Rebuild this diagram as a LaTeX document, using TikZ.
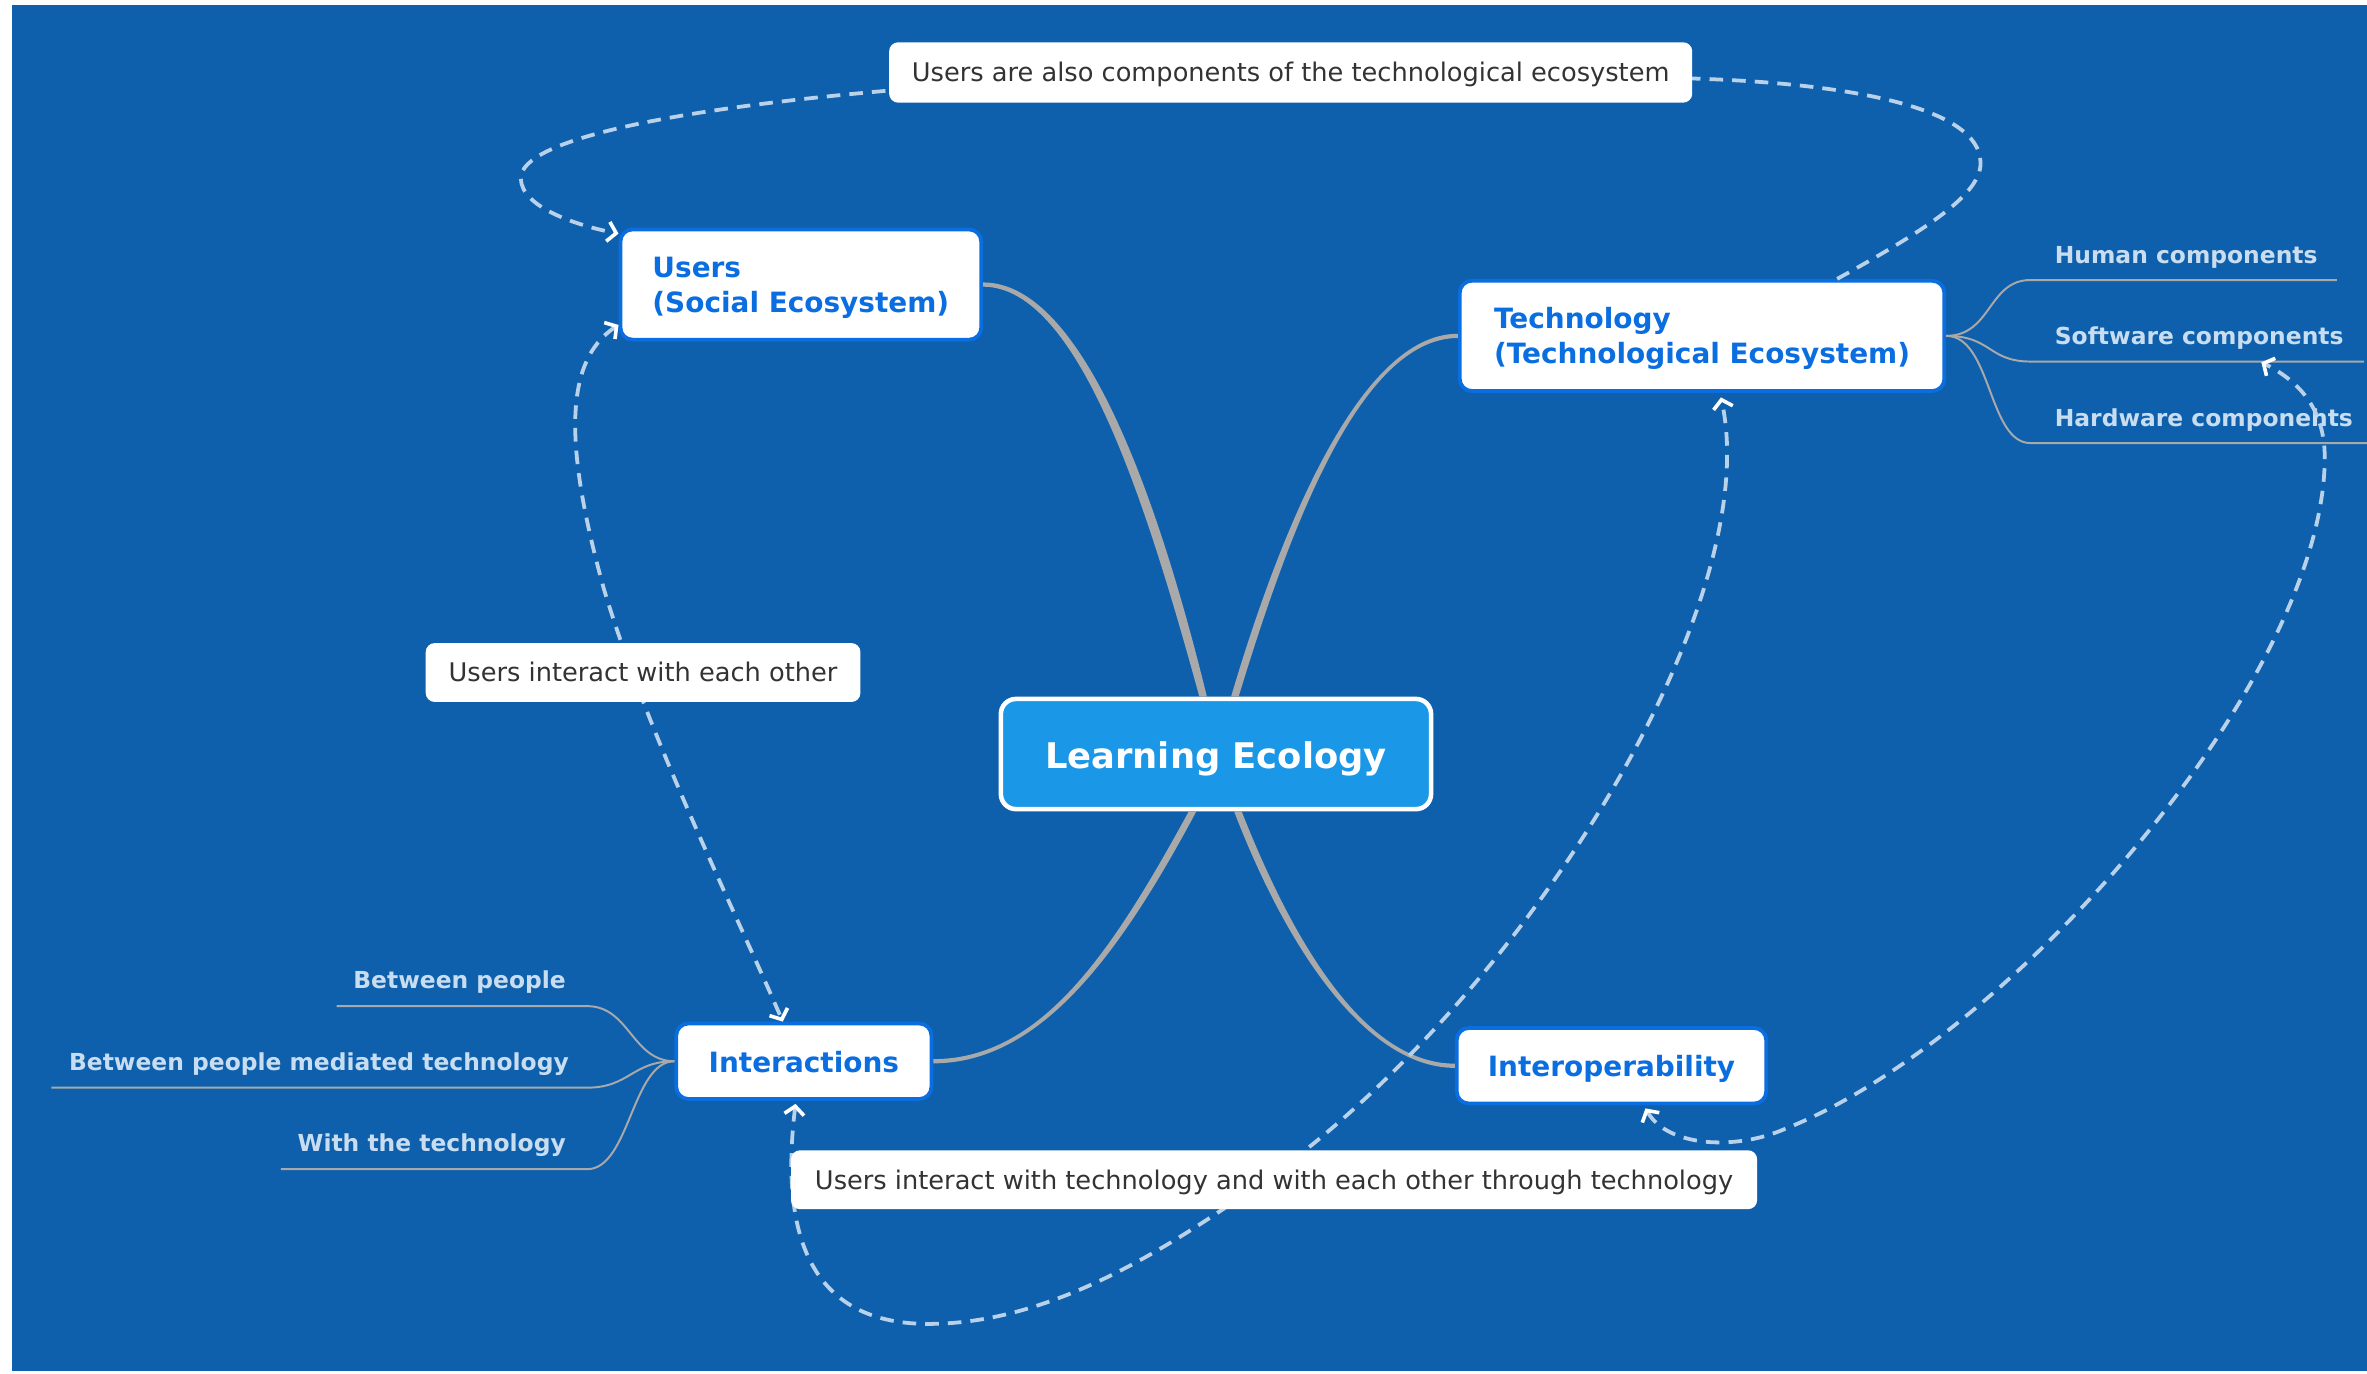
\documentclass[tikz,border=0pt]{standalone}
\usepackage{fontspec}
\setmainfont{DejaVu Sans}
\usetikzlibrary{arrows.meta,calc}
\definecolor{bg}{HTML}{0E60AD}
\definecolor{cfill}{HTML}{1B97E8}
\definecolor{nblue}{HTML}{0A6EE0}
\definecolor{subtxt}{HTML}{C8DDF0}
\definecolor{branch}{HTML}{A9A9A9}
\definecolor{dashc}{HTML}{B9D2EA}
\definecolor{ctext}{HTML}{333333}
\begin{document}
\begin{tikzpicture}[x=1pt,y=-1pt,
  >={Straight Barb[length=5.5pt,width=13pt,line width=2.4pt,color=white]},
  topic/.style={draw=nblue, line width=2.5pt, fill=white, rounded corners=8pt, text=nblue,
    font=\fontsize{18.5}{23}\selectfont\bfseries, align=left, inner sep=0pt},
  oneline/.style={text height=14.5pt, text depth=0pt},
  twoline/.style={text height=36.5pt, text depth=0pt},
  centralbox/.style={draw=white, line width=3pt, fill=cfill, rounded corners=10pt, text=white,
    font=\fontsize{23.4}{28}\selectfont\bfseries, inner sep=0pt, text height=19.5pt, text depth=0pt},
  callout/.style={fill=white, rounded corners=6pt, text=ctext,
    font=\fontsize{17}{20}\selectfont, inner sep=0pt, text height=12.4pt, text depth=0pt},
  subtopic/.style={text=subtxt, font=\fontsize{15.5}{18}\selectfont\bfseries, inner sep=0pt},
  mainbranch/.style={fill=branch},
  subbranch/.style={draw=branch, line width=1.3pt},
  relation/.style={draw=dashc, line width=2.5pt, dash pattern=on 9pt off 6pt},
]
\useasboundingbox (0,0) rectangle (1568,910);
\fill[white] (0,0) rectangle (1568,910);
\fill[bg] (8,3) rectangle (1568,908);

% main topic nodes
\node[centralbox, minimum width=285pt, minimum height=73pt] (central) at (805.5,499.5) {Learning Ecology};
\node[topic, twoline, minimum width=239pt, minimum height=73pt] (users) at (530.5,188.5) {Users\\(Social Ecosystem)};
\node[topic, twoline, minimum width=321pt, minimum height=73pt] (tech) at (1127.5,222.5) {Technology\\(Technological Ecosystem)};
\node[topic, oneline, minimum width=169pt, minimum height=50pt] (inter) at (532.5,703) {Interactions};
\node[topic, oneline, minimum width=205pt, minimum height=50pt] (interop) at (1067.5,706) {Interoperability};

% subtopics
\node[subtopic, anchor=base west] (hum) at (1361,174.5) {Human components};
\node[subtopic, anchor=base west] (soft) at (1361,228.5) {Software components};
\node[subtopic, anchor=base west] (hard) at (1361,282.5) {Hardware componehts};
\node[subtopic, anchor=base east] (bp) at (375,655) {Between people};
\node[subtopic, anchor=base east] (bpm) at (377,709) {Between people mediated technology};
\node[subtopic, anchor=base east] (wt) at (375,763) {With the technology};

% main branches (tapered)
\fill[mainbranch] ([xshift=-11pt]central.north) .. controls (760,336) and (715,190) .. ([yshift=-1.4pt]users.east)
  -- ([yshift=1.4pt]users.east) .. controls (718,187) and (768,333) .. ([xshift=-6pt]central.north) -- cycle;
\fill[mainbranch] ([xshift=10pt]central.north) .. controls (847,355) and (900,221) .. ([yshift=1.4pt]tech.west)
  -- ([yshift=-1.4pt]tech.west) .. controls (900,224) and (853,355) .. ([xshift=15pt]central.north) -- cycle;
\fill[mainbranch] ([xshift=-18pt]central.south) .. controls (737,630) and (690,701.6) .. ([yshift=1.4pt]inter.east)
  -- ([yshift=-1.4pt]inter.east) .. controls (690,704.4) and (743,630) .. ([xshift=-13pt]central.south) -- cycle;
\fill[mainbranch] ([xshift=12pt]central.south) .. controls (857,640) and (910,707.4) .. ([yshift=-1.4pt]interop.west)
  -- ([yshift=1.4pt]interop.west) .. controls (910,704.6) and (863,640) .. ([xshift=17pt]central.south) -- cycle;

% sub branches
\draw[subbranch] (tech.east) .. controls +(30,0) and +(-28,0) .. ([xshift=-16pt,yshift=-11pt]hum.base west) -- ++(203,0);
\draw[subbranch] (tech.east) .. controls +(30,0) and +(-28,0) .. ([xshift=-16pt,yshift=-11pt]soft.base west) -- ++(221,0);
\draw[subbranch] (tech.east) .. controls +(30,0) and +(-28,0) .. ([xshift=-16pt,yshift=-11pt]hard.base west) -- ++(223,0);
\draw[subbranch] (inter.west) .. controls +(-28,0) and +(28,0) .. ([xshift=14pt,yshift=-11.5pt]bp.base east) -- ++(-166,0);
\draw[subbranch] (inter.west) .. controls +(-28,0) and +(28,0) .. ([xshift=12pt,yshift=-11.5pt]bpm.base east) -- ++(-355,0);
\draw[subbranch] (inter.west) .. controls +(-28,0) and +(28,0) .. ([xshift=14pt,yshift=-11.5pt]wt.base east) -- ++(-203,0);

% relations
\draw[relation,->] ([xshift=89.5pt]tech.north) .. controls (1280,150) and (1312,128) .. (1312,108)
  .. controls (1312,70) and (1220,55) .. (1121,52) -- (589,60)
  .. controls (450,72) and (345,92) .. (345,118)
  .. controls (345,138) and (385,150) .. ([yshift=-4pt]users.north west);
\draw[relation,<->] ([yshift=11pt]users.south west) .. controls (372,240) and (375,300) .. (400,390)
  .. controls (430,490) and (490,610) .. ([xshift=-14pt]inter.north);
\draw[relation,<->] ([xshift=-5.5pt,yshift=-2pt]inter.south) .. controls (515,830) and (545,877) .. (615,877)
  .. controls (700,877) and (780,822) .. (838,782)
  .. controls (1010,660) and (1170,400) .. ([xshift=12.5pt,yshift=-3pt]tech.south);
\draw[relation,<->] ([xshift=22.5pt,yshift=-2pt]interop.south) .. controls (1105,760) and (1150,762) .. (1182,748)
  .. controls (1330,690) and (1540,450) .. (1540,303)
  .. controls (1540,270) and (1522,252) .. ([xshift=137pt,yshift=-11.5pt]soft.base west);

% callouts
\node[callout, minimum width=532pt, minimum height=40pt] (c1) at (855,48) {Users are also components of the technological ecosystem};
\node[callout, minimum width=288pt, minimum height=39pt] (c2) at (426,445.5) {Users interact with each other};
\node[callout, minimum width=640pt, minimum height=39pt] (c3) at (844,781.5) {Users interact with technology and with each other through technology};
\end{tikzpicture}
\end{document}
